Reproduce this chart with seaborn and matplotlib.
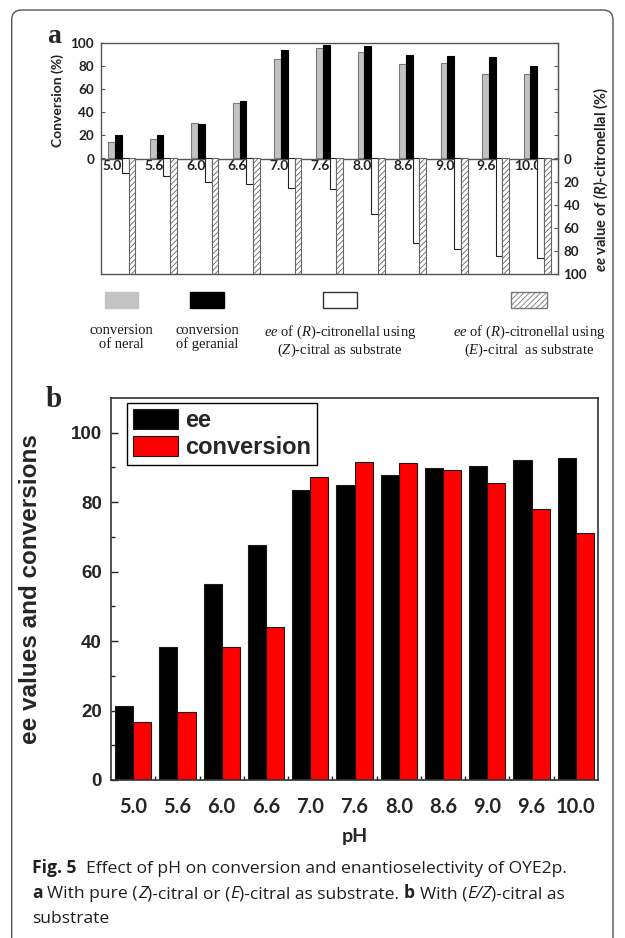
import numpy as np
import pandas as pd
import matplotlib
matplotlib.use('Agg')
import matplotlib.pyplot as plt
import seaborn as sns
from matplotlib.patches import Rectangle, FancyBboxPatch

# data
ph = ['5.0', '5.6', '6.0', '6.6', '7.0', '7.6', '8.0', '8.6', '9.0', '9.6', '10.0']

# panel a: conversions (up) and ee of (R)-citronellal (down)
conv_neral = [14, 17, 31, 48, 86, 96, 92, 82, 83, 73, 73]
conv_geranial = [20, 20, 30, 50, 94, 98.5, 97, 90, 89, 88, 80]
ee_z_citral = [12.5, 15, 20, 22, 25.5, 26.5, 48, 73, 78.5, 84, 86]
ee_e_citral = [100, 100, 100, 100, 100, 100, 100, 100, 100, 100, 100]

# panel b: (E/Z)-citral
ee_b = [21.2, 38.4, 56.3, 67.7, 83.5, 85.0, 87.8, 89.7, 90.5, 92.2, 92.7]
conv_b = [16.7, 19.6, 38.2, 44.2, 87.2, 91.6, 91.2, 89.2, 85.5, 77.9, 71.2]

ticks_a = [0, 20, 40, 60, 80, 100]
ticks_b = [0, 20, 40, 60, 80, 100]

sns.set_style('ticks')
plt.rcParams['font.family'] = ['DejaVu Sans']
plt.rcParams['mathtext.fontset'] = 'custom'
plt.rcParams['mathtext.rm'] = 'Liberation Serif'
plt.rcParams['mathtext.it'] = 'Liberation Serif:italic'
plt.rcParams['mathtext.bf'] = 'Lato:bold'
plt.rcParams['mathtext.bfit'] = 'Lato:italic:bold'
plt.rcParams['hatch.linewidth'] = 0.6

W, H = 625, 938
fig = plt.figure(figsize=(6.25, 9.38), dpi=100)


def box(l, t, r, b):
    return [l / W, 1 - b / H, (r - l) / W, (b - t) / H]


ax_a = fig.add_axes(box(101, 43, 558, 274))
ax_b = fig.add_axes(box(111, 398, 598, 780))

# ---------------- panel a ----------------
series_a = ['neral', 'geranial', 'ee_z', 'ee_e']
df_a = pd.DataFrame({
    'pH': ph * 4,
    'value': conv_neral + conv_geranial + [-v for v in ee_z_citral] + [-v for v in ee_e_citral],
    'series': [s for s in series_a for _ in ph],
})
sns.barplot(data=df_a, x='pH', y='value', hue='series', order=ph, hue_order=series_a,
            palette=['#c3c3c3', 'black', 'white', 'white'], width=0.65, gap=0,
            saturation=1, errorbar=None, legend=False, linewidth=0.8, ax=ax_a)
edge_a = ['#7a7a7a', 'black', '#222222', '#666666']
for cont, ec in zip(ax_a.containers, edge_a):
    for p in cont:
        p.set_edgecolor(ec)
for p in ax_a.containers[3]:
    p.set_hatch('//////')

ax_a.set_xlim(-0.5, 10.5)
ax_a.set_ylim(-100, 100)
ax_a.set_xticks([])
ax_a.set_xlabel('')
for s in ax_a.spines.values():
    s.set_color('#555555')
    s.set_linewidth(1)
ax_a.set_yticks(ticks_a, [str(t) for t in ticks_a], fontfamily='Lato',
                fontweight='bold', fontsize=9.7, color='#222222')
ax_a.tick_params(axis='y', direction='in', length=3, pad=5, left=True, right=True,
                 color='#555555')
ax_a.set_ylabel('Conversion (%)', fontfamily='Lato', fontweight='bold', fontsize=10,
                color='#222222')
ax_a.yaxis.set_label_coords(-0.081, 0.753)

# pH labels on the zero line
sec_x = ax_a.secondary_xaxis(0.5)
sec_x.set_alignment('bottom')
sec_x.set_xticks(np.arange(len(ph)) - 0.22, ph, fontfamily='Lato', fontweight='bold',
                 fontsize=10, color='#222222')
sec_x.tick_params(length=0, pad=1)
for s in sec_x.spines.values():
    s.set_color('#555555')
    s.set_linewidth(1)

# ee axis on the right, counting downward
sec_y = ax_a.secondary_yaxis('right', functions=(lambda y: -y, lambda y: -y))
sec_y.set_yticks(ticks_a, [str(t) for t in ticks_a], fontfamily='Lato',
                 fontweight='bold', fontsize=9.7, color='#222222')
sec_y.tick_params(direction='in', length=3, pad=4, color='#555555')
for s in sec_y.spines.values():
    s.set_color('#555555')
sec_y.set_ylabel(r'$\mathbfit{ee}$ value of $\mathbfit{(R)}$-citronellal (%)',
                 fontfamily='Lato', fontweight='bold', fontsize=10.5, color='#222222')
sec_y.yaxis.set_label_coords(1.072, 0.411, transform=ax_a.transAxes)

fig.text(47 / W, 1 - 43 / H, 'a', fontfamily='Liberation Serif', fontweight='bold',
         fontsize=20, va='baseline')

# legend of panel a: swatches above, text below
leg_items = [
    (105, 138, '#c3c3c3', '#c3c3c3', None, 'conversion\nof neral'),
    (190, 224, 'black', 'black', None, 'conversion\nof geranial'),
    (323, 357, 'white', '#333333', None,
     r'$ee$ of ($R$)-citronellal using' + '\n' + r'($Z$)-citral as substrate'),
    (511, 547, 'white', '#777777', '//////',
     r'$ee$ of ($R$)-citronellal using' + '\n' + r'($E$)-citral  as substrate'),
]
for x0, x1, fc, ec, hatch, label in leg_items:
    fig.add_artist(Rectangle((x0 / W, 1 - 308 / H), (x1 - x0) / W, 16 / H,
                             transform=fig.transFigure, facecolor=fc, edgecolor=ec,
                             hatch=hatch, linewidth=1))
    fig.text((x0 + x1) / 2 / W, 1 - 324 / H, label, ha='center', va='top',
             multialignment='center', fontfamily='Liberation Serif', fontsize=10.5,
             linespacing=1.05, color='#1a1a1a')

# ---------------- panel b ----------------
df_b = pd.DataFrame({
    'pH': ph * 2,
    'value': ee_b + conv_b,
    'series': ['ee'] * len(ph) + ['conversion'] * len(ph),
})
sns.barplot(data=df_b, x='pH', y='value', hue='series', order=ph,
            hue_order=['ee', 'conversion'], palette=['black', '#ff0000'],
            width=0.82, gap=0, saturation=1, errorbar=None, edgecolor='#1a1a1a',
            linewidth=0.8, ax=ax_b)
ax_b.set_xlim(-0.5, 10.5)
ax_b.set_ylim(0, 110)
for s in ax_b.spines.values():
    s.set_visible(True)
    s.set_color('#333333')
    s.set_linewidth(1.2)

ax_b.set_yticks(ticks_b, [str(t) for t in ticks_b], fontfamily='Liberation Sans',
                fontweight='bold', fontsize=13.5)
ax_b.set_yticks([10, 30, 50, 70, 90], minor=True)
ax_b.tick_params(axis='y', which='major', direction='in', length=5, width=1, pad=6.5)
ax_b.tick_params(axis='y', which='minor', direction='in', length=3, width=1)
ax_b.set_xticks(range(len(ph)), ph, fontfamily='Lato', fontweight='bold', fontsize=14.5)
ax_b.set_xticks(np.arange(len(ph) - 1) + 0.5, minor=True)
ax_b.tick_params(axis='x', which='major', length=0, pad=12)
ax_b.tick_params(axis='x', which='minor', direction='in', length=3, width=1)

ax_b.set_ylabel('ee values and conversions', fontfamily='Liberation Sans',
                fontweight='bold', fontsize=17.5)
ax_b.yaxis.set_label_coords(-0.142, 0.5)
ax_b.set_xlabel('pH', fontfamily='Lato', fontweight='bold', fontsize=14)
ax_b.xaxis.set_label_coords(0.5, -0.126)

handles, labels = ax_b.get_legend_handles_labels()
leg = ax_b.legend(handles, labels, loc='upper left', bbox_to_anchor=(0.033, 0.987),
                  borderaxespad=0, frameon=True, fancybox=False, edgecolor='black',
                  framealpha=1, prop=dict(family='Liberation Sans', weight='bold', size=17),
                  handlelength=1.9, handleheight=0.93, handletextpad=0.3,
                  labelspacing=0.15, borderpad=0.25)
leg.get_frame().set_linewidth(1.0)

fig.text(46 / W, 1 - 407 / H, 'b', fontfamily='Liberation Serif', fontweight='bold',
         fontsize=21, va='baseline')

# ---------------- caption ----------------
FS = 12.6
SP = 0.26 * FS  # width of one space, points


def caption_line(x_px, y_px, runs):
    t = None
    for text, style, gap in runs:
        kw = dict(fontsize=FS, fontfamily='Open Sans', color='#231f20')
        kw.update(style)
        if t is None:
            t = fig.text(x_px / W, 1 - y_px / H, text, va='baseline', **kw)
        else:
            t = ax_b.annotate(text, xy=(1, 0), xycoords=t, xytext=(gap, 0),
                              textcoords='offset points', va='bottom',
                              annotation_clip=False, **kw)


bold = dict(fontweight='bold')
ital = dict(fontstyle='italic')
reg = {}
caption_line(32, 873, [('Fig. 5', bold, 0),
                       ('Effect of pH on conversion and enantioselectivity of OYE2p.', reg, 2 * SP)])
caption_line(32, 898, [('a', bold, 0), ('With pure (', reg, SP), ('Z', ital, 0),
                       (')-citral or (', reg, 0), ('E', ital, 0),
                       (')-citral as substrate.', reg, 0), ('b', bold, SP),
                       ('With (', reg, SP), ('E/Z', ital, 0), (')-citral as', reg, 0)])
caption_line(32, 923, [('substrate', reg, 0)])

# rounded frame around the whole figure (open at the bottom)
fig.add_artist(FancyBboxPatch((11.7, -30), 613 - 11.7, H - 10 + 30,
                              boxstyle='round,pad=0,rounding_size=10', transform=None,
                              facecolor='none', edgecolor='#555555', linewidth=1))

fig.savefig('out.png', dpi=100)
